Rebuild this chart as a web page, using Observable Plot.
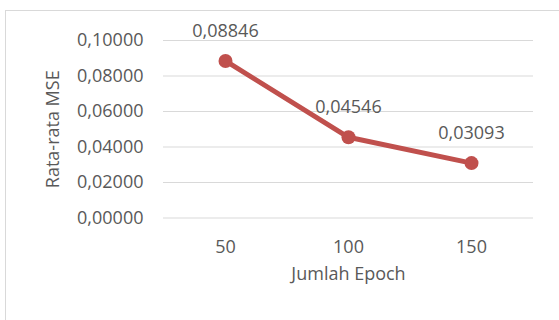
<!DOCTYPE html>
<html>
<head>
<meta charset="utf-8">
<script src="https://cdn.jsdelivr.net/npm/d3@7"></script>
<script src="https://cdn.jsdelivr.net/npm/@observablehq/plot@0.6"></script>
<style>
  html, body { margin: 0; padding: 0; background: #fff; overflow: hidden; }
  #wrap { position: relative; width: 559px; height: 320px; }
  #border { position: absolute; left: 5px; top: 10px; width: 700px; height: 500px; border: 1px solid #d9d9d9; box-sizing: border-box; }
  #chart { position: absolute; left: 0; top: 0; }
</style>
</head>
<body>
<div id="wrap"><div id="border"></div><div id="chart"></div></div>
<script>
const epochs = ["50", "100", "150"];
const mse = [0.08846, 0.04546, 0.03093];
const yTicks = [0, 0.02, 0.04, 0.06, 0.08, 0.10];
const xLabel = "Jumlah Epoch";
const yLabel = "Rata-rata MSE";

const data = epochs.map((e, i) => ({epoch: e, mse: mse[i]}));
const fmt = v => d3.format(".5f")(v).replace(".", ",");
const textColor = "#595959";
const lineColor = "#C0504D";

const chart = Plot.plot({
  width: 559,
  height: 320,
  marginLeft: 163,
  marginRight: 26,
  marginTop: 40,
  marginBottom: 102.5,
  style: {fontFamily: "'Open Sans', sans-serif", fontSize: "18px", color: textColor, background: "transparent"},
  x: {type: "point", domain: epochs, padding: 0.5, axis: null},
  y: {domain: [0, 0.1], axis: null},
  marks: [
    Plot.ruleY(yTicks, {stroke: "#d9d9d9", strokeWidth: 1.2}),
    Plot.axisY(yTicks, {tickSize: 0, tickPadding: 20, tickFormat: fmt, label: null, fill: textColor, fontSize: 18}),
    Plot.axisX(epochs, {tickSize: 0, tickPadding: 22, label: null, fill: textColor, fontSize: 18}),
    Plot.line(data, {x: "epoch", y: "mse", stroke: lineColor, strokeWidth: 5, strokeLinecap: "round", strokeLinejoin: "round"}),
    Plot.dot(data, {x: "epoch", y: "mse", r: 7, fill: lineColor, stroke: "none"}),
    Plot.text(data, {x: "epoch", y: "mse", text: d => fmt(d.mse), dy: -30, fill: textColor, fontSize: 18}),
    Plot.text([xLabel], {frameAnchor: "bottom", dy: 61.5, textAnchor: "middle", fill: textColor, fontSize: 18}),
    Plot.text([yLabel], {frameAnchor: "left", dx: -110, rotate: -90, textAnchor: "middle", fill: textColor, fontSize: 18})
  ]
});
document.getElementById("chart").appendChild(chart);
</script>
</body>
</html>
